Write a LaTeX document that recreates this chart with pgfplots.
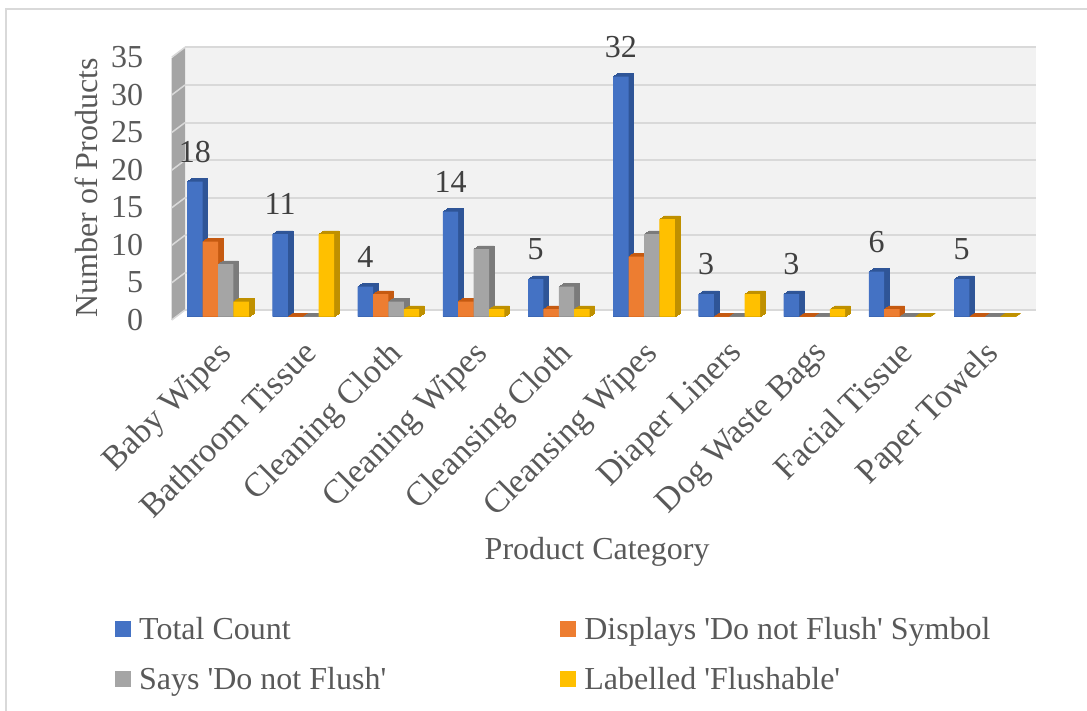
\documentclass[border=0pt]{standalone}
\usepackage{fontspec}
\setmainfont{Liberation Serif}
\usepackage{pgfplots}
\usepackage{pgfplotstable}
\pgfplotsset{compat=1.18}

\definecolor{cBlue}{HTML}{4472C4}
\definecolor{cOrange}{HTML}{ED7D31}
\definecolor{cGray}{HTML}{A5A5A5}
\definecolor{cYellow}{HTML}{FFC000}
\definecolor{dBlue}{HTML}{2F5597}
\definecolor{dOrange}{HTML}{C55A11}
\definecolor{dGray}{HTML}{7B7B7B}
\definecolor{dYellow}{HTML}{BF9000}
\definecolor{txt}{HTML}{595959}

\pgfplotstableread{
x total displays says labelled
0 18 10 7 2
1 11 0 0 11
2 4 3 2 1
3 14 2 9 1
4 5 1 4 1
5 32 8 11 13
6 3 0 0 3
7 3 0 0 1
8 6 1 0 0
9 5 0 0 0
}\products

% side and top of a bar: darker copies of it, stepped back in depth
\newcommand{\barside}[3]{%
  \pgfplotsinvokeforeach{1,...,10}{%
    \addplot[ybar, bar width=15.4pt, bar shift=#3, fill=#2, draw=#2, line width=0.5pt,
      xshift=##1*0.5pt, yshift=##1*0.33pt, forget plot] table[x=x, y=#1] {\products};
  }%
}

\begin{document}
\begin{tikzpicture}[every node/.append style={font=\fontsize{32}{36}\selectfont}]
\path[use as bounding box] (0,0) rectangle (1087pt,711pt);
\begin{scope}[x=1pt, y=-1pt, yshift=711pt]
  % chart frame
  \draw[draw=black!15, line width=2pt] (6,716) -- (6,9) -- (1092,9);
  % back wall and side wall
  \fill[black!5] (185,47) rectangle (1036,310);
  \fill[cGray] (171.7,58.3) -- (185,47) -- (185,310) -- (171.7,320) -- cycle;
  \foreach \y in {47.3,85,122.6,160.2,197.8,235.3,272.8,310} {
    \draw[black!15, line width=2pt] (185,\y) -- (1036,\y);
    \draw[black!15, line width=1.5pt] (171.7,\y+10) -- (185,\y);
  }
\end{scope}
\begin{axis}[
  at={(175.4pt,394.3pt)}, anchor=south west,
  scale only axis, width=852pt, height=262.5pt,
  xmin=-0.5, xmax=9.5, ymin=0, ymax=35,
  clip=false,
  axis line style={draw=none},
  major tick length=0pt,
  xtick=data,
  xticklabels={Baby Wipes,Bathroom Tissue,Cleaning Cloth,Cleaning Wipes,Cleansing Cloth,Cleansing Wipes,Diaper Liners,Dog Waste Bags,Facial Tissue,Paper Towels},
  ytick={0,5,...,35},
  /pgf/number format/assume math mode=true,
  tick label style={text=txt, font=\fontsize{32}{36}\selectfont},
  xticklabel style={rotate=45, anchor=north east, inner sep=0pt, yshift=-14pt, xshift=-16.6pt, font=\fontsize{34}{38}\selectfont},
  yticklabel style={anchor=east, inner sep=0pt, xshift=-32pt, yshift=-3pt},
  xlabel={Product Category},
  ylabel={Number of Products},
  label style={text=txt, font=\fontsize{32}{36}\selectfont},
  xlabel style={at={(axis description cs:0.495,-0.897)}, anchor=center},
  ylabel style={at={(axis description cs:-0.105,0.49)}, anchor=center, rotate=0},
  legend columns=2,
  legend cell align=left,
  legend image code/.code={\fill[#1] (0pt,-8pt) rectangle (16pt,8pt);},
  legend style={at={(-63.4pt,-296pt)}, anchor=north west, draw=none, fill=none,
    text=txt, font=\fontsize{32}{36}\selectfont, row sep=23pt,
    /tikz/column 1/.style={column sep=6pt},
    /tikz/column 2/.style={column sep=172pt},
    /tikz/column 3/.style={column sep=6pt}},
]
\barside{total}{dBlue}{-23.1pt}
\addplot[ybar, bar width=15.4pt, bar shift=-23.1pt, fill=cBlue, draw=none,
  nodes near coords,
  every node near coord/.style={text=black!75, font=\fontsize{32}{36}\selectfont, anchor=south, inner sep=0pt, xshift=-23.1pt, yshift=19pt}]
  table[x=x, y=total] {\products};
\addlegendentry{Total Count}
\barside{displays}{dOrange}{-7.7pt}
\addplot[ybar, bar width=15.4pt, bar shift=-7.7pt, fill=cOrange, draw=none] table[x=x, y=displays] {\products};
\addlegendentry{Displays \textquotesingle Do not Flush\textquotesingle{} Symbol}
\barside{says}{dGray}{7.7pt}
\addplot[ybar, bar width=15.4pt, bar shift=7.7pt, fill=cGray, draw=none] table[x=x, y=says] {\products};
\addlegendentry{Says \textquotesingle Do not Flush\textquotesingle}
\barside{labelled}{dYellow}{23.1pt}
\addplot[ybar, bar width=15.4pt, bar shift=23.1pt, fill=cYellow, draw=none] table[x=x, y=labelled] {\products};
\addlegendentry{Labelled \textquotesingle Flushable\textquotesingle}
\end{axis}
\end{tikzpicture}
\end{document}
